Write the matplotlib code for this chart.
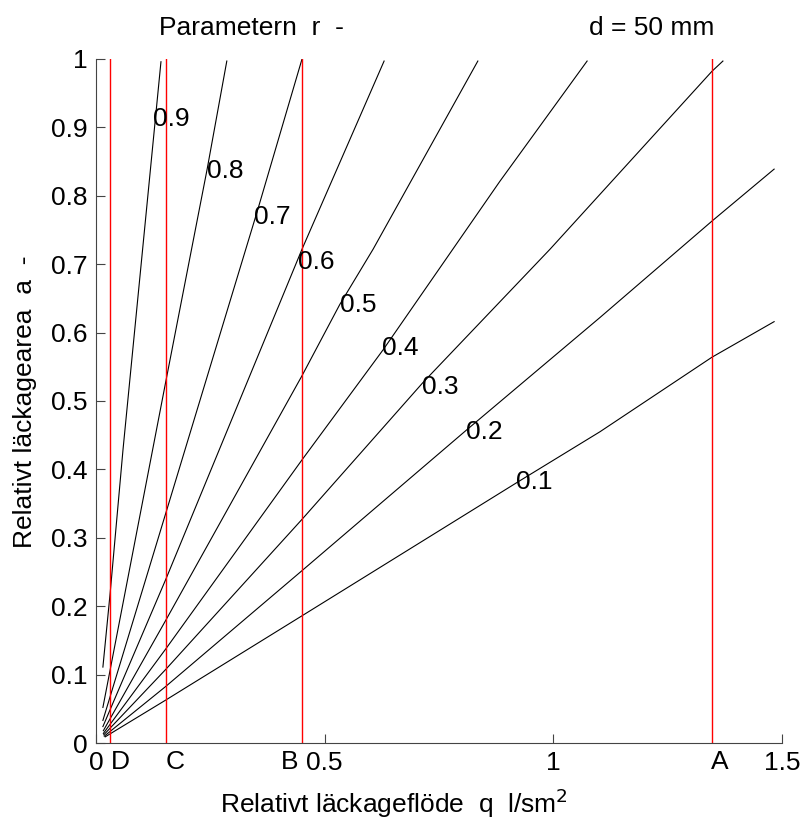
import matplotlib
matplotlib.use("Agg")
import matplotlib.pyplot as plt

plt.rcParams['font.family'] = ['Liberation Sans', 'DejaVu Sans']

# curves of relative leak area vs relative leak flow, one per parameter r
r_labels = ["0.1", "0.2", "0.3", "0.4", "0.5", "0.6", "0.7", "0.8", "0.9"]
q_01 = [0.020, 0.153, 0.4505, 0.921, 1.102, 1.347, 1.483]
a_01 = [0.009, 0.063, 0.186, 0.381, 0.455, 0.564, 0.616]
q_02 = [0.018, 0.153, 0.4505, 0.811, 1.102, 1.347, 1.483]
a_02 = [0.010, 0.083, 0.252, 0.458, 0.622, 0.763, 0.839]
q_03 = [0.017, 0.153, 0.4505, 0.715, 0.993, 1.347, 1.371]
a_03 = [0.012, 0.108, 0.327, 0.527, 0.722, 0.982, 0.997]
q_04 = [0.016, 0.153, 0.4505, 0.628, 0.883, 1.074]
a_04 = [0.014, 0.138, 0.414, 0.575, 0.821, 0.997]
q_05 = [0.016, 0.153, 0.4505, 0.533, 0.606, 0.835]
a_05 = [0.018, 0.180, 0.537, 0.641, 0.722, 0.997]
q_06 = [0.015, 0.153, 0.4505, 0.630]
a_06 = [0.024, 0.240, 0.722, 0.997]
q_07 = [0.015, 0.153, 0.352, 0.4505]
a_07 = [0.033, 0.337, 0.776, 1.000]
q_08 = [0.015, 0.153, 0.243, 0.286]
a_08 = [0.052, 0.530, 0.839, 0.997]
q_09 = [0.015, 0.031, 0.059, 0.142]
a_09 = [0.111, 0.220, 0.429, 0.996]

# where each r label sits (left edge of text)
label_q = [0.918, 0.809, 0.713, 0.625, 0.534, 0.442, 0.345, 0.243, 0.125]
label_a = [0.382, 0.455, 0.520, 0.578, 0.641, 0.703, 0.769, 0.836, 0.912]

# reference flows (red lines)
ref_names = ["D", "C", "B", "A"]
ref_q = [0.0306, 0.153, 0.4505, 1.347]
ref_text_q = [0.0525, 0.173, 0.424, 1.365]

qs = [q_01, q_02, q_03, q_04, q_05, q_06, q_07, q_08, q_09]
As = [a_01, a_02, a_03, a_04, a_05, a_06, a_07, a_08, a_09]

FS = 19

fig = plt.figure(figsize=(8.05, 8.24), dpi=100)
ax = fig.add_axes([0.1193, 0.0983, 0.852, 0.8301])

for q, a in zip(qs, As):
    ax.plot(q, a, color='black', lw=0.8)

for lab, x, y in zip(r_labels, label_q, label_a):
    ax.text(x, y, lab, fontsize=FS, ha='left', va='center')

for qr in ref_q:
    ax.plot([qr, qr], [0, 1], color='red', lw=1)

for name, xt in zip(ref_names, ref_text_q):
    ax.annotate(name, xy=(xt, 0), xycoords=('data', 'axes fraction'),
                xytext=(0, -5), textcoords='offset points',
                ha='center', va='top', fontsize=FS)

ax.set_xlim(0, 1.5)
ax.set_ylim(0, 1)
ax.set_xticks([0, 0.5, 1, 1.5])
ax.set_xticklabels(["0", "0.5", "1", "1.5"])
ax.set_yticks([i / 10 for i in range(11)])
ax.set_yticklabels(["0", "0.1", "0.2", "0.3", "0.4", "0.5", "0.6", "0.7", "0.8", "0.9", "1"])
ax.tick_params(direction='in', length=6.5, width=0.8, color='#444444',
               labelsize=FS, pad=6)
ax.spines['top'].set_visible(False)
ax.spines['right'].set_visible(False)
ax.spines['left'].set_color('#444444')
ax.spines['bottom'].set_color('#444444')

fig.text(0.489, 0.025, "Relativt läckageflöde  q  l/sm$^2$", fontsize=FS,
         ha='center', va='center')
fig.text(0.031, 0.513, "Relativt läckagearea  a  -", fontsize=FS,
         rotation=90, ha='center', va='center')
fig.text(0.312, 0.966, "Parametern  r  -", fontsize=FS, ha='center', va='center')
fig.text(0.81, 0.966, "d = 50 mm", fontsize=FS, ha='center', va='center')

fig.savefig("out.png", dpi=100)
